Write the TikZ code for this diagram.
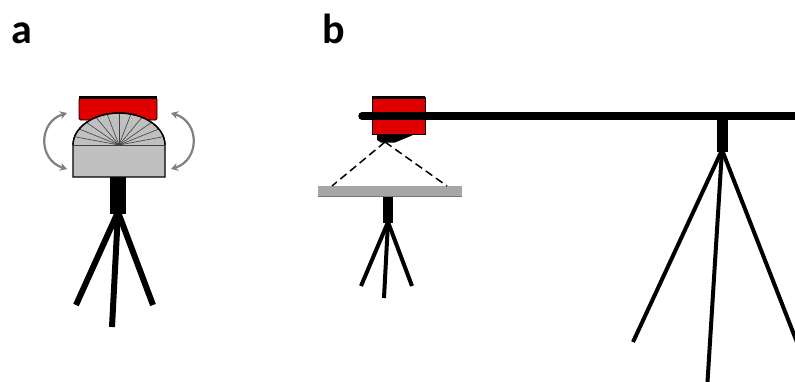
\documentclass[tikz,border=0pt]{standalone}
\usepackage{fontspec}
\setmainfont{Carlito}
\usetikzlibrary{arrows.meta}
\definecolor{camred}{HTML}{E00000}
\definecolor{headgray}{HTML}{C0C0C0}
\definecolor{tablegray}{HTML}{A6A6A6}
\definecolor{arrowgray}{HTML}{808080}
\tikzset{
  panellabel/.style={font=\fontsize{42}{42}\selectfont\bfseries, inner sep=0pt, anchor=base west},
  leg/.style={line width=#1, line cap=butt},
  camerabody/.style={fill=camred, draw=black, line width=0.8pt},
  rotarrow/.style={draw=arrowgray, line width=2.2pt, {Stealth[length=7pt,width=8pt]}-{Stealth[length=7pt,width=8pt]}},
  beam/.style={draw=black, line width=1.5pt, dash pattern=on 8pt off 4.5pt},
}
\begin{document}
\begin{tikzpicture}[x=1pt,y=-1pt]
\useasboundingbox (0,0) rectangle (795,381);
\clip (0,0) rectangle (795,381);

% ---------- panel a: camera on a rotating head ----------
\node[panellabel] (la) at (11,43) {a};

% tripod legs and column
\draw[leg=6pt] (118,212) -- (76,305);
\draw[leg=6pt] (118,212) -- (153,305);
\draw[leg=6pt] (118,212) -- (112,327);
\fill (110,176) rectangle (126,214);

% camera body
\draw[camerabody, rounded corners=1.5pt] (79,98) rectangle (157,120);
\draw[line width=3pt] (79,97.5) -- (157,97.5);

% rotating head with angle scale (y axis points down, so the upper half runs 180..360)
\coordinate (hc) at (119,145);
\filldraw[fill=headgray, draw=black, line width=1.3pt]
  (73,177) -- (73,145) arc[start angle=180, end angle=360, x radius=46, y radius=32] -- (165,177) -- cycle;
\foreach \ang in {15,30,...,165}
  \draw[line width=0.6pt, black!75] (hc) -- ++({46*cos(\ang)}, {-32*sin(\ang)});
\draw[line width=0.6pt, black!75] (73,145) -- (165,145);
\draw[black, line width=1.3pt] (73,145) arc[start angle=180, end angle=360, x radius=46, y radius=32];

% rotation arrows
\coordinate (al1) at (67,113); \coordinate (al2) at (67,169);
\coordinate (ar1) at (171,113); \coordinate (ar2) at (171,169);
\draw[rotarrow] (al1) .. controls (38,122) and (38,160) .. (al2);
\draw[rotarrow] (ar1) .. controls (200,122) and (200,160) .. (ar2);

% ---------- panel b: camera on a boom above a table ----------
\node[panellabel] (lb) at (322,43) {b};

% small tripod under the table
\draw[leg=4pt] (388,222) -- (361,286);
\draw[leg=4pt] (388,222) -- (412,286);
\draw[leg=4pt] (388,222) -- (384,298);
\fill (383,196) rectangle (393,223);

% table top
\fill[tablegray] (318,186) rectangle (462,197);
\draw[black!55, line width=0.8pt] (318,196.6) -- (462,196.6);

% field of view
\coordinate (lens) at (385,142);
\coordinate (fovl) at (332,186);
\coordinate (fovr) at (447,186);
\draw[beam] (lens) -- (fovl);
\draw[beam] (lens) -- (fovr);

% large tripod carrying the boom
\draw[leg=4pt] (722,150) -- (633,342);
\draw[leg=4pt] (722,150) -- (800,350);
\draw[leg=4pt] (722,150) -- (707,390);
\fill (717,116) rectangle (728,152);

% camera body with lens
\fill[black] (377,134) -- (377,140) -- (381,142.5) -- (395,142.5) -- (412,135.5) -- (412,134) -- cycle;
\draw[camerabody] (372,97) rectangle (425,134.5);
\draw[line width=3pt] (372,97.5) -- (425,97.5);

% boom
\draw[line width=7.5pt, line cap=round] (362,116) -- (800,116);
\end{tikzpicture}
\end{document}
